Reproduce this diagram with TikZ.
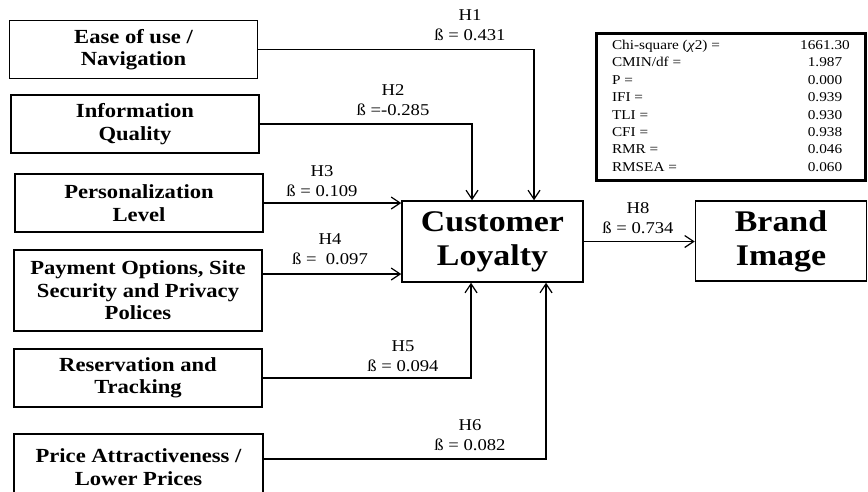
\documentclass[tikz,border=0pt]{standalone}
\usepackage{fontspec}
\setmainfont{Liberation Serif}[FakeStretch=1.13]
\usepackage{array}
\usetikzlibrary{arrows.meta}
\tikzset{boxr/.style={draw=black,line width=1.5pt,minimum width=248pt,minimum height=58pt,inner sep=0pt,align=center,font=\fontsize{20}{22.5}\selectfont\bfseries}}
\tikzset{boxc/.style={draw=black,line width=1.5pt,inner sep=0pt,align=center,font=\fontsize{30}{34}\selectfont\bfseries}}
\tikzset{lbl/.style={inner sep=0pt,align=center,font=\fontsize{16.5}{20}\selectfont}}
\tikzset{fitb/.style={draw=black,line width=3pt,inner xsep=0pt,inner ysep=0pt,minimum height=147pt,font=\fontsize{13.5}{17.4}\selectfont}}
\tikzset{arr/.style={line width=1.2pt,-{Straight Barb[length=9pt,width=12pt,line width=1.2pt]}}}

\begin{document}
\begin{tikzpicture}[x=1pt,y=-1pt]
\clip (0,0) rectangle (868,491);

\node [boxr] at (133.5,49.5) (ease) {Ease of use /\\Navigation};
\node [boxr] at (135,124) (info) {Information\\Quality};
\node [boxr] at (139,203) (pers) {Personalization\\Level};
\node [boxr,minimum height=81pt] at (138,290.5) (pay) {Payment Options, Site\\Security and Privacy\\Polices};
\node [boxr] at (138,378) (res) {Reservation and\\Tracking};
\node [boxr,minimum width=249pt,minimum height=66pt] at (138.5,467) (price) {Price Attractiveness /\\Lower Prices};

\node [boxc,minimum width=181pt,minimum height=81pt] at (492.5,241.5) (cl) {Customer\\Loyalty};
\node [boxc,minimum width=171pt,minimum height=80pt] at (781,241) (bi) {Brand\\Image};

\node [fitb] at (730.5,107) (fit) {%
\begin{tabular}{@{\hspace{16pt}}p{183pt}@{}>{\centering\arraybackslash}p{60pt}@{\hspace{10pt}}}
Chi-square (\textit{χ}2) = & 1661.30\\
CMIN/df = & 1.987\\
P = & 0.000\\
IFI = & 0.939\\
TLI = & 0.930\\
CFI = & 0.938\\
RMR = & 0.046\\
RMSEA = & 0.060
\end{tabular}};

\draw [arr] (ease.east) -| ([xshift=41.5pt]cl.north);
\draw [arr] (info.east) -| ([xshift=-20.5pt]cl.north);
\draw [arr] (pers.east) -- (pers.east -| cl.west);
\draw [arr] ([yshift=16.5pt]pay.east) -- ([yshift=16.5pt]pay.east -| cl.west);
\draw [arr] (res.east) -| ([xshift=-21.5pt]cl.south);
\draw [arr] ([yshift=8pt]price.east) -| ([xshift=53.5pt]cl.south);
\draw [arr] (cl.east) -- (cl.east -| bi.west);

\node [lbl] at (470,25) (h1) {H1\\ß = 0.431};
\node [lbl] at (393,100) (h2) {H2\\ß =-0.285};
\node [lbl] at (322,181) (h3) {H3\\ß = 0.109};
\node [lbl] at (330,249) (h4) {H4\\ß =\ \ 0.097};
\node [lbl] at (403,356) (h5) {H5\\ß = 0.094};
\node [lbl] at (470,435) (h6) {H6\\ß = 0.082};
\node [lbl] at (638,218) (h8) {H8\\ß = 0.734};
\end{tikzpicture}
\end{document}
